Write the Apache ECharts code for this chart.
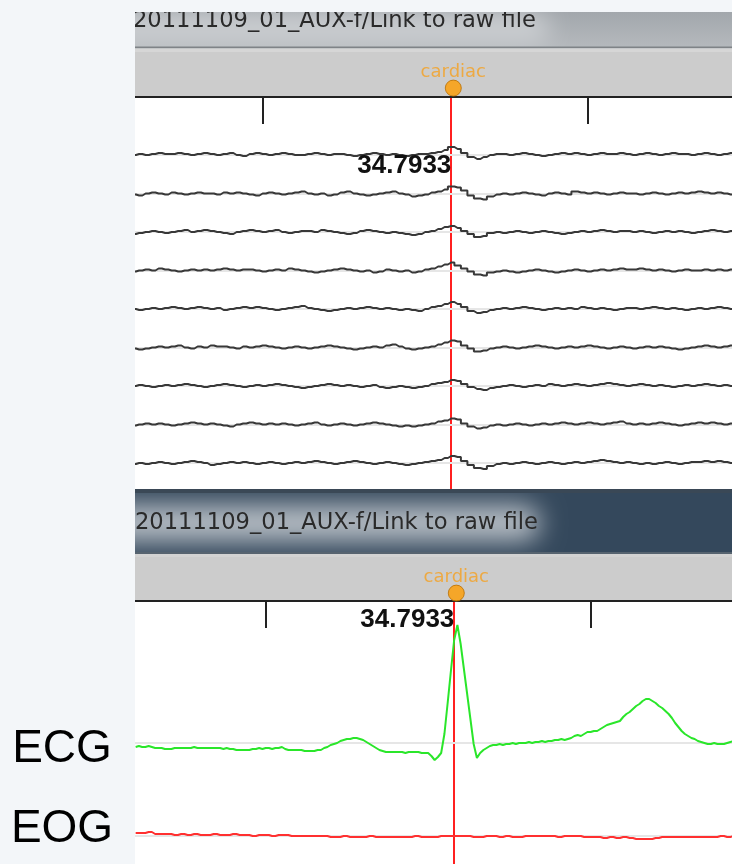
<!DOCTYPE html>
<html><head><meta charset="utf-8">
<script src="https://cdn.jsdelivr.net/npm/echarts@6/dist/echarts.min.js"></script>
<style>html,body{margin:0;padding:0;background:#f3f6f9;overflow:hidden}#c{width:732px;height:864px}</style>
</head><body><div id="c"></div>
<script>
// ---------------- data ----------------
const fileTitle = '20111109_01_AUX-f/Link to raw file';
const eventName = 'cardiac';
const cursorTime = 34.7933;
const tickTimes = [34.5, 35.0];
const channelLabels = ['ECG', 'EOG'];
const megStart = 34.30, megStep = 0.01;
const ecgStart = 34.30, ecgStep = 0.005;
const eogStart = 34.30, eogStep = 0.01;

const meg1 = [0,1,0,1,2,1,1,2,1,0, 1,2,1,0,1,2,0,-1,1,2, 1,0,1,2,1,0,0,1,2,1, 0,1,1,0,-1,0,1,2,1,0, 1,0,-1,0,1,1,2,3,5,8, 6,2,-2,-4,-2,0,1,1,0,1, 2,1,0,-1,0,1,2,1,2,1, 0,1,2,1,1,2,1,0,1,2, 1,0,1,2,1,1,0,1,2,1, 0,1,2,1];
const meg2 = [-1,-2,0,1,0,-1,1,0,-1,0, 1,0,0,-1,1,0,1,0,-1,-2, 0,1,0,-1,0,1,2,0,-1,0, -2,-1,1,2,0,-1,-2,-1,0,1, 2,0,-1,-3,-2,-1,1,2,4,7, 6,3,-2,-5,-6,-3,-1,0,-1,0, 1,0,-1,-2,0,1,0,-1,2,1, 0,1,0,-1,0,1,0,0,-1,0, 1,0,-1,0,1,0,1,2,1,0, 1,0,-1,0];
const meg3 = [-2,-1,0,1,0,-1,0,1,2,0, 1,2,1,0,-1,-2,0,1,2,1, 0,1,2,0,-1,0,1,1,0,2, 1,0,-1,-2,-1,1,2,1,0,-1, 0,-1,-2,-3,-2,0,1,3,5,6, 4,1,-2,-5,-4,-1,0,-1,0,1, 0,-1,0,1,0,-1,-2,-1,0,1, 0,1,2,1,0,1,1,0,1,0, -1,0,1,0,1,0,-1,0,1,2, 1,0,1,0];
const meg4 = [-1,0,1,0,2,1,0,-1,0,1, 0,1,0,1,2,1,0,1,1,0, -1,0,1,0,2,1,0,-1,-2,-1, 0,1,2,1,0,-1,0,-2,-1,1, 0,-1,0,-2,-1,1,2,4,6,8, 5,2,-1,-4,-5,-2,-1,0,-1,-2, -1,0,1,0,-1,-2,-1,0,1,0, -1,0,1,0,1,2,1,1,2,1, 0,1,0,-1,0,1,0,0,1,0, 1,0,1,0];
const meg5 = [0,-1,0,1,0,1,2,1,0,1, 2,1,0,1,-1,0,1,2,1,2, 1,0,-1,0,1,2,3,1,0,-1, -2,-1,0,1,0,1,2,1,0,1, 0,-1,0,-1,-2,0,2,3,5,7, 5,2,-2,-4,-3,-1,0,1,0,1, 2,1,0,-1,0,1,0,1,0,2, 1,0,1,0,-1,0,1,1,0,1, 2,1,0,1,0,-1,0,1,0,1, 2,1,0,1];
const meg6 = [-1,-2,-1,0,1,0,1,2,0,-1, 1,0,2,1,1,0,-1,1,0,1, 2,1,0,-1,0,1,0,-1,0,1, 2,1,0,-1,-2,-1,0,1,0,2, 3,1,-1,-2,-1,0,1,3,5,7, 6,2,-1,-4,-3,-1,0,1,0,-1, 0,1,2,1,0,-1,0,1,0,1, 2,1,0,-1,0,1,0,-1,0,1, 0,1,0,-1,-2,-1,0,1,2,1, 0,1,2,1];
const meg7 = [0,1,0,-1,0,1,0,1,2,1, 0,-1,0,1,2,1,0,-1,0,1, 0,1,2,1,0,-1,-2,-1,0,1, 2,1,0,1,0,-1,0,1,-1,-2, -1,0,-1,-2,-1,0,2,3,4,6, 5,2,-1,-3,-4,-2,-1,0,1,0, -1,0,1,0,2,1,0,1,2,1, 0,1,2,3,2,1,0,1,2,1, 0,1,0,-1,0,1,0,1,2,1, 0,1,0,1];
const meg8 = [-1,0,1,0,1,0,-1,0,1,2, 1,0,1,0,-1,-2,0,1,2,1, 0,1,0,1,0,-1,0,1,2,0, -1,0,1,0,-1,0,1,2,1,0, -1,-2,-1,-2,-1,0,1,3,4,6, 5,1,-2,-4,-3,-1,0,-1,0,1, 0,-1,0,1,0,1,2,1,0,1, 2,1,0,1,2,3,1,0,1,0, 1,2,1,0,-1,0,1,2,1,2, 1,0,1,2];
const meg9 = [-1,0,-1,0,1,0,-1,0,1,2, 1,0,-2,-1,0,1,0,1,0,-1, 0,1,0,-1,0,1,0,1,2,1, 0,-1,0,1,2,1,0,-1,0,1, 0,-1,-2,-1,0,1,2,3,5,7, 6,2,-2,-5,-6,-3,-1,0,-1,0, 1,0,-1,0,1,0,-1,0,1,0, 1,2,3,2,1,0,1,0,-1,0, -1,0,1,0,-1,0,1,1,2,1, 2,1,0,1];

const ecg = [-4,-3,-4,-4,-3,-4,-5,-5,-5,-6, -6,-6,-5,-5,-5,-5,-5,-5,-4,-5, -5,-5,-5,-5,-5,-5,-5,-6,-5,-6,
  -6,-7,-7,-7,-7,-7,-6,-6,-5,-6, -5,-5,-6,-5,-5,-4,-6,-7,-7,-7, -7,-7,-8,-8,-8,-8,-7,-7,-5,-4,
  -2,-1,0,2,3,4,4,5,5,4, 3,1,-1,-3,-5,-7,-8,-9,-9,-9, -9,-9,-9,-10,-9,-9,-9,-9,-10,-10,
  -10,-13,-17,-14,-10,9,40,72,103,118, 99,74,49,24,-1,-15,-10,-7,-5,-3, -2,-2,-1,-2,-1,-1,0,-1,0,0,
  0,1,0,1,1,2,1,2,2,3, 3,4,3,4,5,7,8,7,9,11, 11,12,12,14,16,18,19,20,21,22,
  26,29,31,34,37,39,42,44,44,42, 40,37,35,32,29,25,20,16,12,9, 7,5,4,2,1,0,-1,-1,0,-1,
  -1,-1,0,1,2];
const eog = [3,3,4,2,2,2,1,2,1,2, 1,1,2,1,1,2,1,1,0,1, 1,0,1,1,0,0,0,0,0,0, -1,-1,0,-1,-1,-1,0,-1,-1,-1,
  -1,-1,-1,0,-1,-1,-1,0,0,0, 0,0,-1,-1,0,0,-1,0,-1,-1, 0,0,0,0,0,-1,0,0,0,-1,
  -1,-1,-2,-1,-2,-1,-2,-3,-3,-3, -2,-1,-1,-1,-1,-1,-1,-1,-1,-1, 0,-1,0,0];

// ---------------- layout ----------------
const megChannels = [meg1, meg2, meg3, meg4, meg5, meg6, meg7, meg8, meg9];
const L = 135, PW = 597;
const pxPerSec = 650;
const topMin = 34.30361;
const botMin = 34.29899;
const span = PW / pxPerSec;
const pairs = (arr, t0, dt) => arr.map((v, i) => [+(t0 + i * dt).toFixed(4), v]);

const grids = [], xAxes = [], yAxes = [], series = [];
function addGrid(top, height, xmin, ymin, ymax, xExtra) {
  const gi = grids.length;
  grids.push({left: L, top: top, width: PW, height: height, show: false, outerBoundsMode: 'none'});
  xAxes.push(Object.assign({
    type: 'value', gridIndex: gi, min: xmin, max: xmin + span, z: 8,
    axisLine: {show: false}, axisTick: {show: false}, axisLabel: {show: false}, splitLine: {show: false}
  }, xExtra || {}));
  yAxes.push({type: 'value', gridIndex: gi, min: ymin, max: ymax, show: false, splitLine: {show: false}});
  return gi;
}
const frameAxis = {
  position: 'top',
  axisLine: {show: true, onZero: false, lineStyle: {color: '#222', width: 2}},
  axisTick: {show: true, inside: true, length: 27, customValues: tickTimes, lineStyle: {color: '#222', width: 2}}
};
const baseAxis = {axisLine: {show: true, onZero: true, lineStyle: {color: '#e6e6e6', width: 2}}};

// top panel
const gTopFrame = addGrid(97, 392, topMin, 0, 1, frameAxis);
megChannels.forEach((ch, k) => {
  const c = 155 + 38.5 * k;
  const gi = addGrid(c - 19, 38, topMin, -19, 19, baseAxis);
  series.push({type: 'line', xAxisIndex: gi, yAxisIndex: gi, data: pairs(ch, megStart, megStep), step: 'middle',
    showSymbol: false, symbol: 'none', silent: true, z: 10, lineStyle: {color: '#383838', width: 2}});
});
const gTopMark = addGrid(52, 44, topMin, 0, 1);
// bottom panel
const gBotFrame = addGrid(601, 263, botMin, 0, 1, frameAxis);
const gBotMark = addGrid(557, 43, botMin, 0, 1);
const gEcg = addGrid(603, 200, botMin, -60, 140, baseAxis);
const gEog = addGrid(816, 40, botMin, -20, 20, baseAxis);

series.push({type: 'line', xAxisIndex: gEcg, yAxisIndex: gEcg, data: pairs(ecg, ecgStart, ecgStep),
  showSymbol: false, symbol: 'none', silent: true, z: 10, lineStyle: {color: '#2ae62a', width: 2}});
series.push({type: 'line', xAxisIndex: gEog, yAxisIndex: gEog, data: pairs(eog, eogStart, eogStep), step: 'middle',
  showSymbol: false, symbol: 'none', silent: true, z: 10, lineStyle: {color: '#ff3030', width: 2}});

function eventMarker(gi, yv) {
  return {type: 'scatter', xAxisIndex: gi, yAxisIndex: gi, data: [[cursorTime, yv]], symbol: 'circle', symbolSize: 16,
    silent: true, z: 10,
    itemStyle: {color: '#ff9c00', borderColor: '#b86e00', borderWidth: 1},
    label: {show: true, position: 'top', distance: -2, formatter: eventName, color: '#f5a020',
      fontFamily: 'DejaVu Sans', fontSize: 18}};
}
series.push(eventMarker(gTopMark, 0.18));
series.push(eventMarker(gBotMark, 0.16));

function cursor(gi) {
  return {type: 'line', xAxisIndex: gi, yAxisIndex: gi, data: [], z: 12, silent: true,
    markLine: {silent: true, symbol: ['none', 'none'], animation: false, label: {show: false},
      lineStyle: {color: '#ff2020', width: 2, type: 'solid'}, data: [{xAxis: cursorTime}]}};
}
series.push(cursor(gTopFrame));
series.push(cursor(gBotFrame));

const chart = echarts.init(document.getElementById('c'), null, {renderer: 'canvas'});
chart.setOption({animation: false, backgroundColor: '#f3f6f9', grid: grids, xAxis: xAxes, yAxis: yAxes, series: series});

// ---------------- chrome (graphic) ----------------
const cxTop = chart.convertToPixel({xAxisIndex: gTopFrame}, cursorTime);
const cxBot = chart.convertToPixel({xAxisIndex: gBotFrame}, cursorTime);

const R = (x, y, w, h, fill, z, extra) => Object.assign({type: 'rect', silent: true, z: z,
  shape: {x: x, y: y, width: w, height: h}, style: {fill: fill}}, extra || {});
const T = (text, x, y, style, z) => ({type: 'text', silent: true, z: z, x: x, y: y,
  style: Object.assign({text: text}, style)});
// soft glow: only the blurred shadow of an off-canvas rect is visible
const glow = (x, y, w, h, color, blur, z) => ({type: 'rect', silent: true, z: z,
  shape: {x: x - 3000, y: y, width: w, height: h, r: h / 2},
  style: {fill: color, shadowBlur: blur, shadowColor: color, shadowOffsetX: 3000, shadowOffsetY: 0}});

const titleFont = {fontFamily: 'DejaVu Sans', fontSize: 22.6, fill: '#2a2a2a', align: 'left', verticalAlign: 'middle'};
const g = [
  // top panel title bar
  R(L, 12, PW, 35, {type: 'linear', x: 0, y: 0, x2: 0, y2: 1, colorStops: [{offset: 0, color: '#a2a7ac'}, {offset: 1, color: '#b5b9bd'}]}, 1),
  glow(100, 14, 450, 30, '#cdd0d3', 24, 2),
  R(L, 46.5, PW, 2, '#7f8387', 3),
  R(L, 48.5, PW, 3.5, '#d6d6d6', 3),
  R(L, 52, PW, 45, '#cccccc', 3),
  R(L, 97, PW, 392, '#ffffff', 3),
  // bottom panel title bar
  R(L, 489, PW, 4, '#3a4856', 3),
  R(L, 493, PW, 59, '#34485c', 1),
  glow(100, 505, 440, 36, '#b9c0c7', 26, 2),
  R(L, 552, PW, 2, '#56636f', 3),
  R(L, 554, PW, 3, '#d2d2d2', 3),
  R(L, 557, PW, 44, '#cccccc', 3),
  R(L, 601, PW, 263, '#ffffff', 3),
  T(fileTitle, 133, 21, titleFont, 4),
  T(fileTitle, 135, 523, titleFont, 4),
  // cursor time labels
  T(cursorTime.toFixed(4), cxTop - 2, 166, {fontFamily: 'Liberation Sans', fontWeight: 'bold', fontSize: 26, fill: '#111', align: 'right', verticalAlign: 'middle'}, 14),
  T(cursorTime.toFixed(4), cxBot - 2, 620, {fontFamily: 'Liberation Sans', fontWeight: 'bold', fontSize: 26, fill: '#111', align: 'right', verticalAlign: 'middle'}, 14),
  // page margins
  R(0, 0, L, 864, '#f3f6f9', 20),
  R(0, 0, 732, 12, '#f3f6f9', 20),
  T(channelLabels[0], 62, 749, {fontFamily: 'Liberation Sans', fontSize: 46, fill: '#000', align: 'center', verticalAlign: 'middle'}, 21),
  T(channelLabels[1], 62, 829, {fontFamily: 'Liberation Sans', fontSize: 46, fill: '#000', align: 'center', verticalAlign: 'middle'}, 21)
];
chart.setOption({graphic: {elements: g}});
</script>
</body></html>
